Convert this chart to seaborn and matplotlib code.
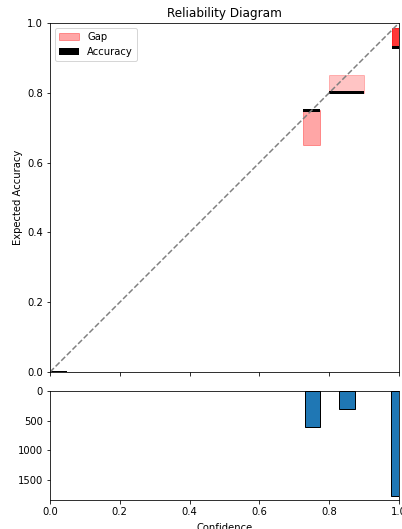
import numpy as np
import matplotlib
matplotlib.use("Agg")
import matplotlib.pyplot as plt
from matplotlib.transforms import Bbox
import seaborn as sns

# reliability bins (top panel)
bin_centers = [0.025, 0.75, 0.85, 1.0]
bin_widths = [0.05, 0.05, 0.10, 0.04]
bin_accuracy = [0.0, 0.75, 0.80, 0.93]
bin_confidence = [0.0, 0.65, 0.85, 0.985]

# sample counts (bottom panel)
hist_centers = [0.752, 0.852, 1.0]
hist_counts = [600, 300, 1770]

# gap shading strength per non-empty bin
gap_alpha = [0.35, 0.23, 0.78]

fig = plt.figure(figsize=(402 / 72, 529 / 72), dpi=72)
ax = fig.add_axes([50 / 402, 157 / 529, 349 / 402, 349 / 529])
ax2 = fig.add_axes([50 / 402, 29 / 529, 349 / 402, 109 / 529])

centers = np.array(bin_centers)
widths = np.array(bin_widths)
acc = np.array(bin_accuracy)
conf = np.array(bin_confidence)

filled = conf != acc
gap_colors = [(1, 0, 0, a) for a in gap_alpha]
ax.bar(centers[filled], (conf - acc)[filled], bottom=acc[filled], width=widths[filled],
       color=gap_colors, edgecolor=gap_colors, linewidth=1, label="Gap")
ax.bar(centers, 0.008, bottom=acc - 0.004, width=widths, color="black", label="Accuracy")
ax.axline((0, 0), slope=1, linestyle="--", color="gray")

ax.set_xlim(0, 1)
ax.set_ylim(0, 1)
ax.set_xticks(np.arange(0, 1.01, 0.2))
ax.set_xticklabels([])
ax.set_yticks(np.arange(0, 1.01, 0.2))
ax.set_ylabel("Expected Accuracy")
ax.set_title("Reliability Diagram")
ax.legend(loc="upper left")

sns.barplot(x=hist_centers, y=hist_counts, native_scale=True, width=0.45,
            color="#1f77b4", saturation=1, edgecolor="black", linewidth=1,
            errorbar=None, ax=ax2)
ax2.set_xlim(0, 1)
ax2.set_ylim(1835, 0)
ax2.set_xticks(np.arange(0, 1.01, 0.2))
ax2.set_xticklabels([f"{t:.1f}" for t in np.arange(0, 1.01, 0.2)])
ax2.set_yticks([0, 500, 1000, 1500])
ax2.set_xlabel("Confidence", labelpad=6)
ax2.set_ylabel("Count")
# only a sliver of this label survives in the reference crop
ax2.yaxis.label.set_clip_box(Bbox([[10.5, 0], [13.5, 529]]))
ax2.yaxis.label.set_clip_on(True)

fig.savefig("out.png", dpi=72)
